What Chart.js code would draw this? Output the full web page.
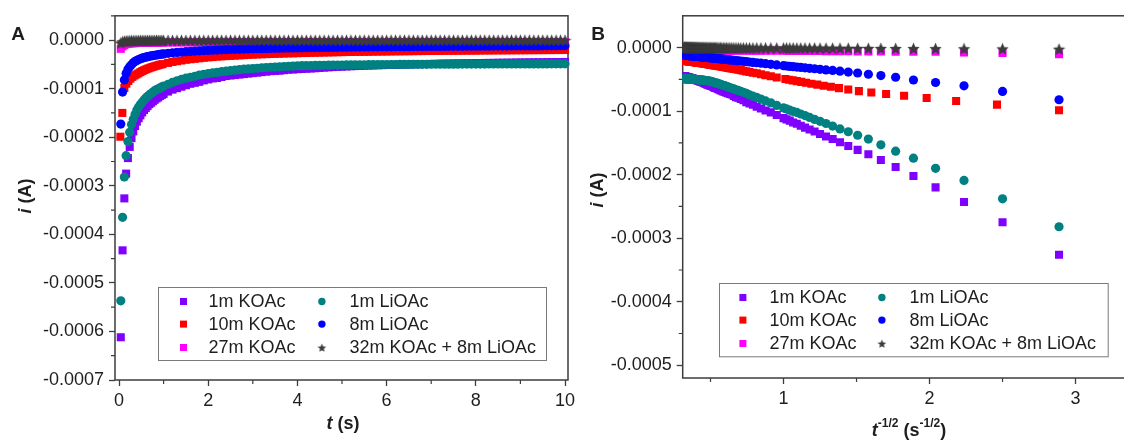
<!DOCTYPE html>
<html>
<head>
<meta charset="utf-8">
<script src="https://cdn.jsdelivr.net/npm/chart.js@4.4.1/dist/chart.umd.min.js"></script>
<style>
  html, body { margin: 0; padding: 0; background: #fff; width: 1124px; height: 442px; overflow: hidden; }
  .panel { position: absolute; top: 0; height: 442px; }
  #panelA { left: 0; width: 580px; }
  #panelB { left: 580px; width: 575px; }
  .txt { position: absolute; font-family: "Liberation Sans", Arial, Helvetica, sans-serif; font-weight: bold;
         font-size: 18px; line-height: 18px; color: #1e1e1e; white-space: nowrap; }
  .letter { font-size: 19px; transform: translate(-50%, -50%); }
  .xt { transform: translateX(-50%); }
  .yt { transform: translate(-50%, -50%) rotate(-90deg); }
  .txt sup { font-size: 12px; line-height: 0; position: relative; top: -2px; vertical-align: super; }
</style>
</head>
<body>
<div class="panel" id="panelA"><canvas id="chartA" width="580" height="442"></canvas></div>
<div class="panel" id="panelB"><canvas id="chartB" width="575" height="442"></canvas></div>

<div class="txt letter" style="left:18px; top:34px;">A</div>
<div class="txt letter" style="left:598px; top:34px;">B</div>
<div class="txt xt" style="left:343px; top:414px;"><i>t</i> (s)</div>
<div class="txt xt" style="left:909px; top:421px;"><i>t</i><sup>-1/2</sup> (s<sup>-1/2</sup>)</div>
<div class="txt yt" style="left:25px; top:196px;"><i>i</i> (A)</div>
<div class="txt yt" style="left:597px; top:190px;"><i>i</i> (A)</div>

<script>
'use strict';

/* ── chronoamperometry samples ───────────────────────────── */

// sampling times (s): 0.04 s steps for the first second, 0.1 s after
const time = [
  0.04, 0.08, 0.12, 0.16, 0.20, 0.24, 0.28, 0.32, 0.36, 0.40,
  0.44, 0.48, 0.52, 0.56, 0.60, 0.64, 0.68, 0.72, 0.76, 0.80,
  0.84, 0.88, 0.92, 0.96, 1.00,
  1.1, 1.2, 1.3, 1.4, 1.5, 1.6, 1.7, 1.8, 1.9, 2.0,
  2.1, 2.2, 2.3, 2.4, 2.5, 2.6, 2.7, 2.8, 2.9, 3.0,
  3.1, 3.2, 3.3, 3.4, 3.5, 3.6, 3.7, 3.8, 3.9, 4.0,
  4.1, 4.2, 4.3, 4.4, 4.5, 4.6, 4.7, 4.8, 4.9, 5.0,
  5.1, 5.2, 5.3, 5.4, 5.5, 5.6, 5.7, 5.8, 5.9, 6.0,
  6.1, 6.2, 6.3, 6.4, 6.5, 6.6, 6.7, 6.8, 6.9, 7.0,
  7.1, 7.2, 7.3, 7.4, 7.5, 7.6, 7.7, 7.8, 7.9, 8.0,
  8.1, 8.2, 8.3, 8.4, 8.5, 8.6, 8.7, 8.8, 8.9, 9.0,
  9.1, 9.2, 9.3, 9.4, 9.5, 9.6, 9.7, 9.8, 9.9, 10.0
];

// the 10m KOAc run was logged on a 0.045 s clock for the first second
const timeRed = [
  0.03, 0.075, 0.12, 0.165, 0.21, 0.255, 0.30, 0.345, 0.39, 0.435,
  0.48, 0.525, 0.57, 0.615, 0.66, 0.705, 0.75, 0.795, 0.84, 0.885,
  0.93, 0.975,
  1.1, 1.2, 1.3, 1.4, 1.5, 1.6, 1.7, 1.8, 1.9, 2.0,
  2.1, 2.2, 2.3, 2.4, 2.5, 2.6, 2.7, 2.8, 2.9, 3.0,
  3.1, 3.2, 3.3, 3.4, 3.5, 3.6, 3.7, 3.8, 3.9, 4.0,
  4.1, 4.2, 4.3, 4.4, 4.5, 4.6, 4.7, 4.8, 4.9, 5.0,
  5.1, 5.2, 5.3, 5.4, 5.5, 5.6, 5.7, 5.8, 5.9, 6.0,
  6.1, 6.2, 6.3, 6.4, 6.5, 6.6, 6.7, 6.8, 6.9, 7.0,
  7.1, 7.2, 7.3, 7.4, 7.5, 7.6, 7.7, 7.8, 7.9, 8.0,
  8.1, 8.2, 8.3, 8.4, 8.5, 8.6, 8.7, 8.8, 8.9, 9.0,
  9.1, 9.2, 9.3, 9.4, 9.5, 9.6, 9.7, 9.8, 9.9, 10.0
];

// currents in µA
const iK1 = [
  -612, -433, -326, -275, -243, -220, -202, -188, -177, -168,
  -161, -155, -149, -144, -140, -136, -132, -129, -126, -123,
  -120, -118, -115, -113, -111,
  -106, -102, -99, -96, -93, -90, -88, -86, -83, -81,
  -79, -78, -76, -74, -73, -72, -71, -70, -69, -68,
  -67, -66, -65, -64, -63.5, -63, -62, -61, -60.5, -60,
  -59.5, -59, -58.5, -58, -57.3, -56.7, -56.1, -55.6, -55.1, -54.7,
  -54.3, -53.9, -53.5, -53.2, -52.8, -52.5, -52.2, -51.9, -51.6, -51.3,
  -51.1, -50.8, -50.6, -50.3, -50.1, -49.9, -49.7, -49.5, -49.3, -49.1,
  -48.9, -48.7, -48.5, -48.4, -48.2, -48, -47.9, -47.7, -47.6, -47.4,
  -47.3, -47.1, -47, -46.9, -46.7, -46.6, -46.5, -46.4, -46.2, -46.1,
  -46, -45.9, -45.8, -45.7, -45.6, -45.5, -45.4, -45.3, -45.2, -45.1
];

const iK10 = [
  -199, -150, -98.6, -89.8, -84.1, -79.4, -75.8, -73, -70.8, -68.5,
  -66, -63.8, -61.8, -60, -58.3, -56.8, -55.3, -54, -52.8, -51.6,
  -50.5, -49.5,
  -47, -45, -43.5, -42, -40.5, -39.5, -38.5, -37.5, -36.5, -35.5,
  -35, -34, -33.5, -33, -32.5, -32, -31.5, -31, -30.5, -30,
  -29.5, -29.2, -29, -28.6, -28.3, -28, -27.7, -27.4, -27.2, -27,
  -26.7, -26.5, -26.2, -26, -25.8, -25.6, -25.4, -25.2, -25, -24.8,
  -24.6, -24.5, -24.3, -24.2, -24.1, -24, -23.8, -23.7, -23.6, -23.5,
  -23.3, -23.2, -23.1, -23, -22.9, -22.8, -22.7, -22.6, -22.5, -22.4,
  -22.3, -22.2, -22.1, -22, -22, -21.9, -21.8, -21.7, -21.7, -21.6,
  -21.5, -21.4, -21.4, -21.3, -21.2, -21.2, -21.1, -21, -21, -20.9,
  -20.9, -20.8, -20.8, -20.7, -20.7, -20.6, -20.6, -20.5, -20.5, -20.4
];

const iK27 = [
  -18, -13, -10.4, -8.3, -7.8, -6.7, -6.7, -6.5, -6.3, -6.1,
  -6, -5.9, -5.8, -5.7, -5.6, -5.5, -5.5, -5.4, -5.4, -5.3,
  -5.3, -5.2, -5.2, -5.1, -5.1,
  -5, -5, -4.9, -4.9, -4.8, -4.8, -4.8, -4.7, -4.7, -4.7,
  -4.6, -4.6, -4.6, -4.6, -4.5, -4.5, -4.5, -4.5, -4.5, -4.4,
  -4.4, -4.4, -4.4, -4.4, -4.3, -4.3, -4.3, -4.3, -4.3, -4.3,
  -4.2, -4.2, -4.2, -4.2, -4.2, -4.2, -4.2, -4.2, -4.2, -4.2,
  -4.2, -4.2, -4.2, -4.2, -4.2, -4.2, -4.2, -4.2, -4.2, -4.2,
  -4.2, -4.2, -4.2, -4.2, -4.2, -4.2, -4.2, -4.2, -4.2, -4.2,
  -4.1, -4.1, -4.1, -4.1, -4.1, -4.1, -4.1, -4.1, -4.1, -4.1,
  -4.1, -4.1, -4.1, -4.1, -4.1, -4.1, -4.1, -4.1, -4.1, -4.1,
  -4.1, -4.1, -4.1, -4.1, -4.1, -4.1, -4.1, -4.1, -4.1, -4.1
];

const iLi1 = [
  -537, -365, -282, -238, -209, -190, -174, -163, -153, -144,
  -138, -132.5, -128, -123.5, -119.5, -116, -113, -110, -107, -104.5,
  -102, -100.5, -98.5, -96.5, -95,
  -91, -87, -84, -81, -78.5, -76.5, -74.5, -72, -70.5, -69,
  -67.5, -66.5, -65, -64, -63, -62, -61, -60, -59.5, -58.5,
  -58, -57, -56.5, -56, -55.5, -55, -54.5, -54, -53.5, -53,
  -52.8, -52.6, -52.4, -52.2, -52, -51.8, -51.7, -51.5, -51.4, -51.3,
  -51.2, -51.1, -51, -50.9, -50.8, -50.7, -50.6, -50.5, -50.5, -50.4,
  -50.3, -50.3, -50.2, -50.1, -50.1, -50, -50, -49.9, -49.9, -49.8,
  -49.8, -49.7, -49.7, -49.6, -49.6, -49.6, -49.5, -49.5, -49.5, -49.4,
  -49.4, -49.4, -49.3, -49.3, -49.3, -49.2, -49.2, -49.2, -49.1, -49.1,
  -49.1, -49.1, -49, -49, -49, -49, -48.9, -48.9, -48.9, -48.9
];

const iLi8 = [
  -173, -107, -82.1, -69, -60.2, -55, -51, -46.7, -44, -42,
  -40, -38.5, -37.2, -36, -35.2, -34.2, -33.3, -32.6, -31.9, -31.3,
  -30.7, -30.1, -29.6, -29, -28.5,
  -27.3, -26.3, -25.4, -24.6, -23.9, -23.3, -22.7, -22.2, -21.7, -21.3,
  -20.9, -20.5, -20.1, -19.7, -19.4, -19.1, -18.8, -18.6, -18.3, -18.1,
  -17.8, -17.6, -17.4, -17.2, -17, -16.8, -16.6, -16.5, -16.3, -16.1,
  -16, -15.8, -15.7, -15.6, -15.4, -15.3, -15.2, -15.1, -14.9, -14.8,
  -14.7, -14.6, -14.5, -14.4, -14.3, -14.2, -14.1, -14, -13.9, -13.9,
  -13.8, -13.7, -13.6, -13.6, -13.5, -13.4, -13.4, -13.3, -13.2, -13.2,
  -13.1, -13, -13, -12.9, -12.9, -12.8, -12.8, -12.7, -12.7, -12.6,
  -12.6, -12.5, -12.5, -12.4, -12.4, -12.3, -12.3, -12.2, -12.2, -12.1,
  -12.1, -12, -12, -12, -11.9, -11.9, -11.8, -11.8, -11.7, -11.7
];

const iMix = [
  -6, -3.5, -2.5, -2, -1.8, -1.6, -1.5, -1.4, -1.3, -1.2,
  -1.2, -1.1, -1.1, -1, -1, -1, -0.9, -0.9, -0.9, -0.9,
  -0.8, -0.8, -0.8, -0.8, -0.8,
  -0.7, -0.7, -0.7, -0.7, -0.7, -0.7, -0.7, -0.7, -0.7, -0.7,
  -0.6, -0.6, -0.6, -0.6, -0.6, -0.6, -0.6, -0.6, -0.6, -0.6,
  -0.5, -0.5, -0.5, -0.5, -0.5, -0.5, -0.5, -0.5, -0.5, -0.5,
  -0.5, -0.5, -0.5, -0.5, -0.5, -0.5, -0.5, -0.5, -0.5, -0.5,
  -0.5, -0.5, -0.5, -0.5, -0.5, -0.5, -0.5, -0.5, -0.5, -0.5,
  -0.4, -0.4, -0.4, -0.4, -0.4, -0.4, -0.4, -0.4, -0.4, -0.4,
  -0.4, -0.4, -0.4, -0.4, -0.4, -0.4, -0.4, -0.4, -0.4, -0.4,
  -0.4, -0.4, -0.4, -0.4, -0.4, -0.4, -0.4, -0.4, -0.4, -0.4,
  -0.4, -0.4, -0.4, -0.4, -0.4, -0.4, -0.4, -0.4, -0.4, -0.4
];

const labels = ['1m KOAc', '10m KOAc', '27m KOAc', '1m LiOAc', '8m LiOAc', '32m KOAc + 8m LiOAc'];

// axis ticks
const ticksA_x = [0, 2, 4, 6, 8, 10];
const minorA_x = [1, 3, 5, 7, 9];
const ticksA_y = [0, -0.0001, -0.0002, -0.0003, -0.0004, -0.0005, -0.0006, -0.0007];
const minorA_y = [0.00005, -0.00005, -0.00015, -0.00025, -0.00035, -0.00045, -0.00055, -0.00065];
const ticksB_x = [1, 2, 3];
const minorB_x = [0.5, 1.5, 2.5];
const ticksB_y = [0, -0.0001, -0.0002, -0.0003, -0.0004, -0.0005];
const minorB_y = [-0.00005, -0.00015, -0.00025, -0.00035, -0.00045];

/* ── look ────────────────────────────────────────────────── */
const FONT = '"Liberation Sans", Arial, Helvetica, sans-serif';
const AXIS = '#3d3d3d';
const INK  = '#1e1e1e';

function starSprite(size, color) {
  const c = document.createElement('canvas');
  c.width = c.height = size;
  const g = c.getContext('2d');
  const R = size / 2, r = R * 0.45;
  g.beginPath();
  for (let k = 0; k < 10; k++) {
    const a = -Math.PI / 2 + k * Math.PI / 5;
    const rr = k % 2 ? r : R;
    g.lineTo(R + rr * Math.cos(a), R + 0.6 + rr * Math.sin(a));
  }
  g.closePath();
  g.fillStyle = color;
  g.fill();
  return c;
}

const STAR_BIG   = starSprite(13, '#3b3b3b');
const STAR_SMALL = starSprite(9,  '#3b3b3b');

// column-major legend order, also the plotting order (last on top)
const SERIES = [
  { label: labels[0], t: time,    i: iK1,  color: '#8000ff', shape: 'rect'   },
  { label: labels[1], t: timeRed, i: iK10, color: '#ff0000', shape: 'rect'   },
  { label: labels[2], t: time,    i: iK27, color: '#ff00ff', shape: 'rect'   },
  { label: labels[3], t: time,    i: iLi1, color: '#008080', shape: 'circle' },
  { label: labels[4], t: time,    i: iLi8, color: '#0000ff', shape: 'circle' },
  { label: labels[5], t: time,    i: iMix, color: '#3b3b3b', shape: 'star'   }
];

function datasets(mapX, clip) {
  return SERIES.map(s => ({
    label: s.label,
    data: s.t.map((t, k) => ({ x: mapX(t), y: s.i[k] * 1e-6 })),
    pointStyle: s.shape === 'star' ? STAR_BIG : s.shape,
    pointRadius: s.shape === 'rect' ? 5.7 : 4.6,
    backgroundColor: s.color,
    borderWidth: 0,
    showLine: false,
    clip: clip
  })).reverse();
}

/* ── plugins: frame + minor ticks, boxed key ─────────────── */
const framePlugin = {
  id: 'frame',
  beforeDatasetsDraw(chart, args, o) {
    const { ctx, chartArea: a, scales: { x, y } } = chart;
    ctx.save();
    ctx.strokeStyle = AXIS;
    ctx.lineWidth = 1.5;
    ctx.strokeRect(a.left, a.top, a.right - a.left, a.bottom - a.top);
    ctx.lineWidth = 1.2;
    ctx.beginPath();
    o.xMinor.forEach(v => {
      const px = x.getPixelForValue(v);
      if (px > a.left && px < a.right) { ctx.moveTo(px, a.bottom); ctx.lineTo(px, a.bottom + 4); }
    });
    o.yMinor.forEach(v => {
      const py = y.getPixelForValue(v);
      if (py >= a.top && py < a.bottom) { ctx.moveTo(a.left, py); ctx.lineTo(a.left - 4, py); }
    });
    ctx.stroke();
    ctx.restore();
  }
};

function keyMark(ctx, s, x, y) {
  ctx.fillStyle = s.color;
  if (s.shape === 'rect') ctx.fillRect(x - 3.5, y - 3.5, 7, 7);
  else if (s.shape === 'circle') { ctx.beginPath(); ctx.arc(x, y, 3.7, 0, Math.PI * 2); ctx.fill(); }
  else ctx.drawImage(STAR_SMALL, x - STAR_SMALL.width / 2, y - STAR_SMALL.height / 2);
}

const keyPlugin = {
  id: 'key',
  afterDatasetsDraw(chart, args, o) {
    const { ctx, chartArea: a } = chart;
    const bx = Math.round(a.left + o.dx) + 0.5, by = Math.round(a.bottom - o.dy) + 0.5;
    ctx.save();
    ctx.fillStyle = '#fff';
    ctx.fillRect(bx, by, o.w, o.h);
    ctx.strokeStyle = '#7a7a7a';
    ctx.lineWidth = 1;
    ctx.strokeRect(bx, by, o.w, o.h);
    ctx.font = '18px ' + FONT;
    ctx.textBaseline = 'middle';
    SERIES.forEach((s, k) => {
      const col = Math.floor(k / 3), row = k % 3;
      const y = by + o.rows[row];
      keyMark(ctx, s, bx + o.mark[col], y);
      ctx.fillStyle = INK;
      ctx.fillText(s.label, bx + o.text[col], y + 1);
    });
    ctx.restore();
  }
};

/* ── chart factory ───────────────────────────────────────── */
const fmtAmp = v => (Math.abs(v) < 1e-12 ? 0 : v).toFixed(4);

function panel(id, cfg) {
  const axisTicks = list => s => { s.ticks = list.map(v => ({ value: v })); };
  return new Chart(document.getElementById(id), {
    type: 'scatter',
    data: { datasets: cfg.datasets },
    options: {
      responsive: false,
      animation: false,
      devicePixelRatio: 1,
      events: [],
      layout: { padding: { top: 12, right: cfg.padRight, left: 0, bottom: 0 } },
      plugins: {
        legend: { display: false },
        tooltip: { enabled: false },
        frame: { xMinor: cfg.xMinor, yMinor: cfg.yMinor },
        key: cfg.key
      },
      scales: {
        x: {
          type: 'linear',
          min: cfg.x[0], max: cfg.x[1],
          afterBuildTicks: axisTicks(cfg.xTicks),
          afterFit: s => { s.height = cfg.xHeight; },
          border: { display: false },
          grid: { drawOnChartArea: false, drawTicks: true, tickLength: 6, tickColor: AXIS, tickWidth: 1.3 },
          ticks: { font: { family: FONT, size: 18 }, color: INK, padding: 4, maxRotation: 0, autoSkip: false }
        },
        y: {
          type: 'linear',
          min: cfg.y[0], max: cfg.y[1],
          afterBuildTicks: axisTicks(cfg.yTicks),
          afterFit: s => { s.width = cfg.yWidth; },
          border: { display: false },
          grid: { drawOnChartArea: false, drawTicks: true, tickLength: 6, tickColor: AXIS, tickWidth: 1.3 },
          ticks: { font: { family: FONT, size: 18 }, color: INK, padding: 5, autoSkip: false, callback: fmtAmp }
        }
      }
    },
    plugins: [framePlugin, keyPlugin]
  });
}

// A: current vs time
panel('chartA', {
  datasets: datasets(t => t, false),
  x: [-0.0897, 10.067], y: [-0.0007, 0.00005],
  xTicks: ticksA_x, yTicks: ticksA_y, xMinor: minorA_x, yMinor: minorA_y,
  yWidth: 115, xHeight: 62, padRight: 12,
  key: { dx: 43, dy: 93, w: 388, h: 73, rows: [14, 36.6, 60], mark: [25, 163.4], text: [50, 191] }
});

// B: Cottrell plot, current vs t^-1/2
panel('chartB', {
  datasets: datasets(t => 1 / Math.sqrt(t), true),
  x: [0.3096, 3.455], y: [-0.00052, 0.00005],
  xTicks: ticksB_x, yTicks: ticksB_y, xMinor: minorB_x, yMinor: minorB_y,
  yWidth: 102.7, xHeight: 64, padRight: 13,
  key: { dx: 36.6, dy: 95.3, w: 388.7, h: 73.3, rows: [14, 36.6, 60], mark: [23.4, 162.4], text: [50, 190] }
});
</script>
</body>
</html>
